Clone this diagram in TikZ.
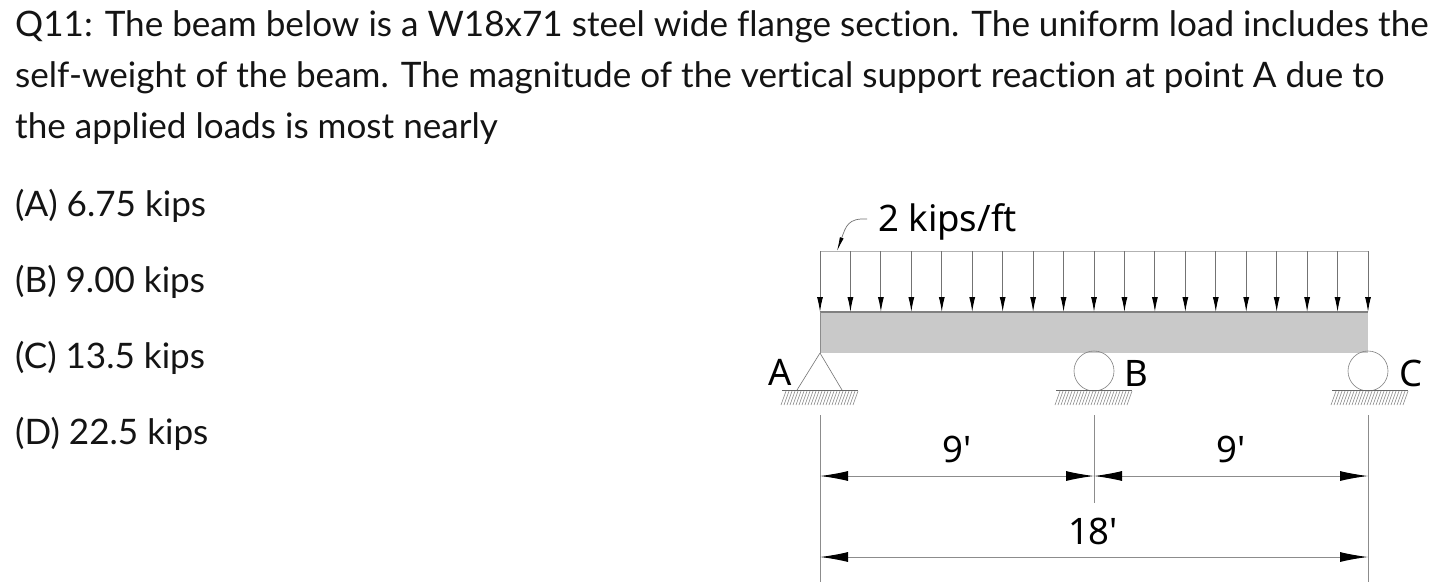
\documentclass[tikz,border=0pt]{standalone}
\usepackage{fontspec}
\setmainfont[Ligatures=NoCommon]{Lato}
\newfontfamily\figfont{Noto Sans}
\usetikzlibrary{arrows.meta}
\tikzset{
  qtext/.style={anchor=base west,inner sep=0pt,font=\fontsize{35.1}{40}\selectfont,text=black!92},
  figlabel/.style={anchor=base,inner sep=0pt,font=\figfont\fontsize{36.5}{40}\selectfont,text=black},
  loadline/.style={draw=black!55,line width=1pt,-{Latex[length=15pt,width=6pt,black]}},
  dimline/.style={draw=black!45,line width=1pt},
  dimarrow/.style={dimline,{Latex[length=28pt,width=10pt,black]}-{Latex[length=28pt,width=10pt,black]}},
  supportline/.style={draw=black!55,line width=.6pt},
  hatch/.style={draw=black!45,line width=.6pt}
}
\begin{document}
\begin{tikzpicture}[x=1pt,y=-1pt]
\useasboundingbox (0,0) rectangle (1456,582);
\fill[white] (0,0) rectangle (1456,582);
% question
\node[qtext] (l1) at (15,36) {Q11: The beam below is a W18x71 steel wide flange section. The uniform load includes the};
\node[qtext] (l2) at (15,87) {self-weight of the beam. The magnitude of the vertical support reaction at point A due to};
\node[qtext] (l3) at (15,138) {the applied loads is most nearly};
\node[qtext] (ansa) at (15,216) {(A) 6.75 kips};
\node[qtext] (ansb) at (15,292) {(B) 9.00 kips};
\node[qtext] (ansc) at (15,368) {(C) 13.5 kips};
\node[qtext] (ansd) at (15,444) {(D) 22.5 kips};
% beam
\coordinate (A) at (820,353);
\coordinate (B) at (1094,353);
\coordinate (C) at (1368,353);
\fill[black!21] (820,312) rectangle (1368,353);
\draw[black!50,line width=1.4pt] (820,312) -- (1368,312);
\draw[black!45,line width=1pt] (820,312) -- (820,353);
% load
\draw[draw=black!30,line width=.8pt] (820,251) -- (1368,251);
\foreach \i in {0,...,18}{
  \pgfmathsetmacro{\xx}{820+\i*30.444}
  \draw[loadline] (\xx,251) -- (\xx,312);
}
\node[figlabel] (load) at (947.5,231) {2 kips/ft};
\coordinate (leadend) at (837,251);
\coordinate (leadstart) at (867,219);
\draw[draw=black!55,line width=.7pt,-{Latex[length=14pt,width=4pt,black]}] (leadstart) .. controls (848,218) and (846,226) .. (leadend);
% support A
\draw[supportline] (A) -- (797,390) (A) -- (842,390);
% rollers
\node[circle,draw=black!50,line width=.6pt,minimum size=40pt,inner sep=0pt] (rb) at (1094,371) {};
\node[circle,draw=black!50,line width=.6pt,minimum size=40pt,inner sep=0pt] (rc) at (1368,371) {};
% grounds
\foreach \gx in {820,1094,1370}{
  \draw[draw=black!60,line width=.9pt] (\gx-38,390) -- (\gx+38,390);
  \foreach \k in {0,...,24}{
    \draw[hatch] (\gx-34+\k*3,391) -- ++(-5,14);
  }
}
\node[figlabel] (la) at (780,385) {A};
\node[figlabel] (lb) at (1136,386) {B};
\node[figlabel] (lc) at (1411,386) {C};
% dimensions
\draw[dimline] (820,415) -- (820,582);
\draw[dimline] (1094,415) -- (1094,503);
\draw[dimline] (1368,415) -- (1368,582);
\coordinate (d1) at (820,476); \coordinate (d2) at (1094,476); \coordinate (d3) at (1368,476);
\coordinate (e1) at (820,557); \coordinate (e2) at (1368,557);
\draw[dimarrow] (d1) -- (d2);
\draw[dimarrow] (d2) -- (d3);
\draw[dimarrow] (e1) -- (e2);
\node[figlabel] (n1) at (957,462) {9'};
\node[figlabel] (n2) at (1231,462) {9'};
\node[figlabel] (n3) at (1093,544) {18'};
\end{tikzpicture}
\end{document}
